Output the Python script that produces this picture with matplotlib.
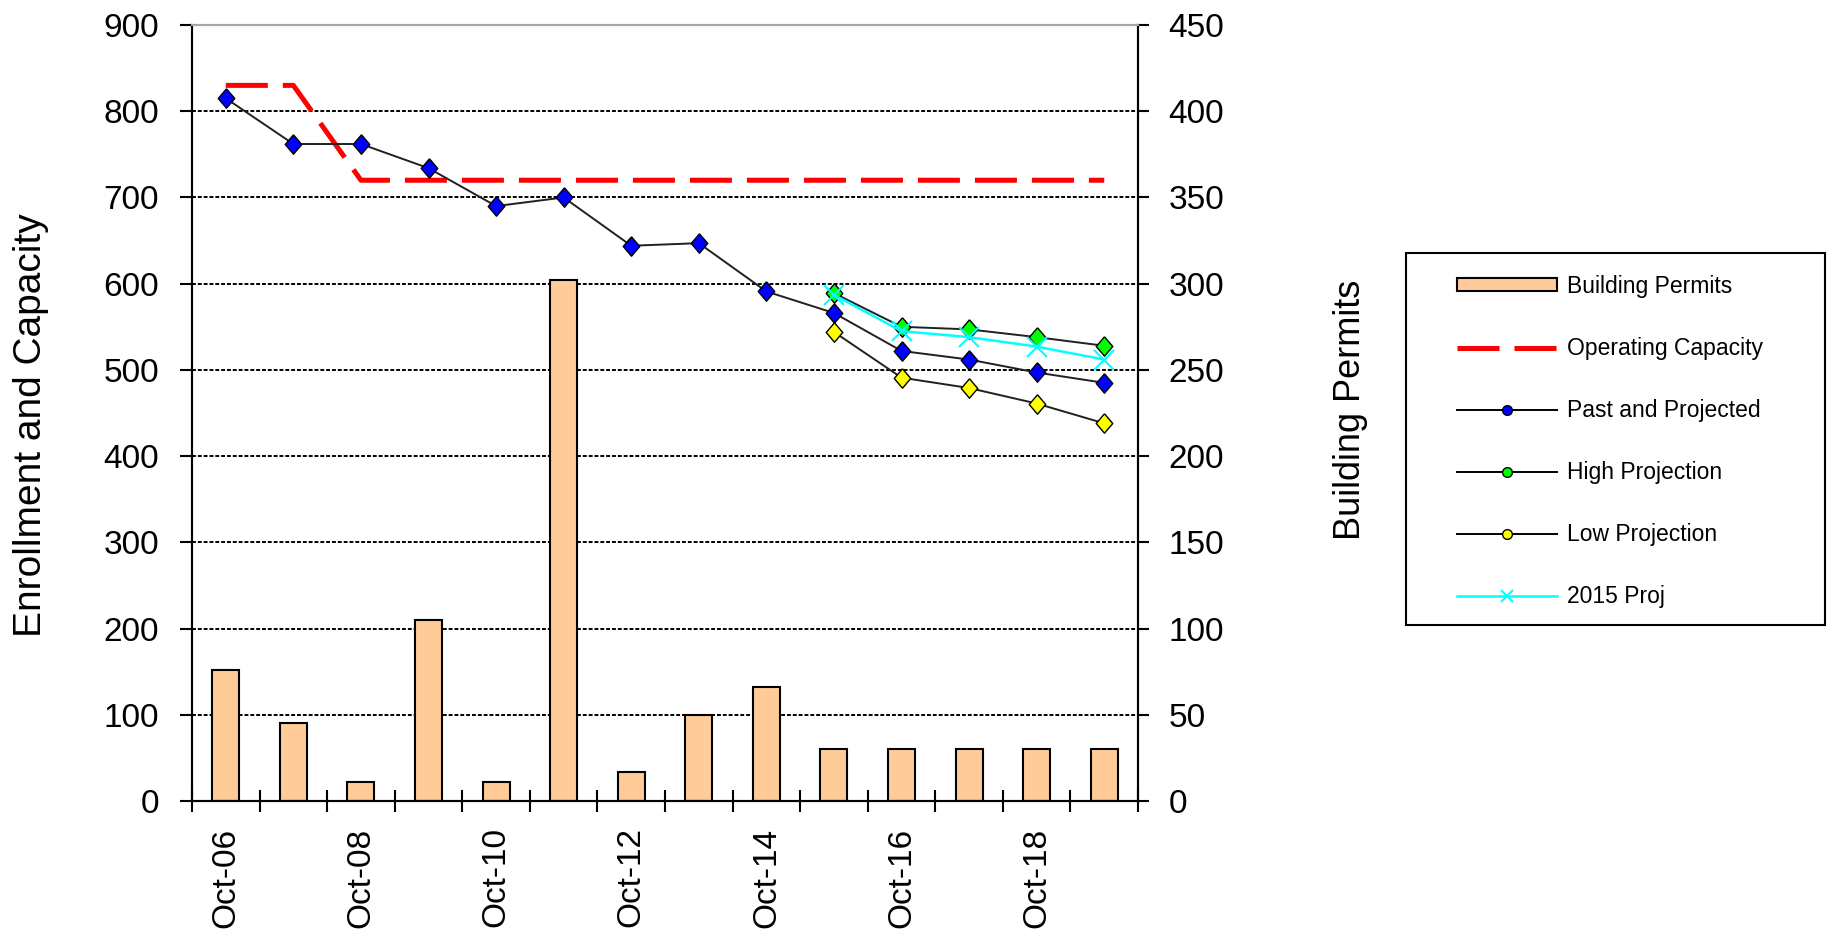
#Enrollment, Capacity and Building Permits

import numpy as np
import matplotlib
matplotlib.use("Agg")
import matplotlib.pyplot as plt
from matplotlib.lines import Line2D
from matplotlib.patches import Patch, Rectangle

plt.rcParams['font.family'] = ['Liberation Sans', 'DejaVu Sans']

#Dados
years = ['Oct-06', 'Oct-07', 'Oct-08', 'Oct-09', 'Oct-10', 'Oct-11', 'Oct-12',
         'Oct-13', 'Oct-14', 'Oct-15', 'Oct-16', 'Oct-17', 'Oct-18', 'Oct-19']
permits = [76, 45, 11, 105, 11, 302, 17, 50, 66, 30, 30, 30, 30, 30]
capacity = [830, 830, 720, 720, 720, 720, 720, 720, 720, 720, 720, 720, 720, 720]
past_proj = [815, 762, 762, 734, 690, 700, 644, 647, 591, 566, 522, 512, 497, 485]
nan = np.nan
high_proj = [nan, nan, nan, nan, nan, nan, nan, nan, nan, 589, 550, 547, 538, 528]
low_proj = [nan, nan, nan, nan, nan, nan, nan, nan, nan, 544, 491, 479, 461, 438]
proj_2015 = [nan, nan, nan, nan, nan, nan, nan, nan, nan, 587, 545, 538, 527, 512]

x = np.arange(len(years))

#Figura
fig = plt.figure(figsize=(18.27, 9.34), dpi=100)
ax1 = fig.add_axes([0.1051, 0.1424, 0.5178, 0.8308])
ax2 = ax1.twinx()
ax1.set_zorder(ax2.get_zorder() + 1)
ax1.patch.set_visible(False)

#Barras (eixo da direita)
ax2.bar(x, permits, width=0.4, color='#FFCC99', edgecolor='black', linewidth=1.5, zorder=2)
ax2.set_ylim(0, 450)
ax2.set_yticks(np.arange(0, 451, 50))
ax2.set_axisbelow(True)
ax2.yaxis.grid(True, color='black', linestyle=(0, (2, 1)), linewidth=1.4)

#Linhas (eixo da esquerda)
diamond = [(0, 1), (0.85, 0), (0, -1), (-0.85, 0), (0, 1)]
ax1.plot(x, capacity, color='red', lw=3.6, dashes=(8.4, 3), zorder=3)
ax1.plot(x, past_proj, color='#202020', lw=1.4, marker=diamond, ms=14,
         mfc='#0000FF', mec='black', mew=1, zorder=5)
ax1.plot(x, high_proj, color='#202020', lw=1.4, marker=diamond, ms=14,
         mfc='#00FF00', mec='black', mew=1, zorder=4)
ax1.plot(x, low_proj, color='#202020', lw=1.4, marker=diamond, ms=14,
         mfc='#FFFF00', mec='black', mew=1, zorder=4)
ax1.plot(x, proj_2015, color='#00FFFF', lw=1.8, marker='x', ms=14, mew=1.5, zorder=4)

ax1.set_xlim(-0.5, len(years) - 0.5)
ax1.set_ylim(0, 900)
ax1.set_yticks(np.arange(0, 901, 100))

#Eixo x: marcas entre categorias, rotulos a cada dois anos
ax1.set_xticks(np.arange(-0.5, len(years)), labels=[''] * (len(years) + 1))
ax1.set_xticks(x[::2], labels=years[::2], minor=True)
ax1.tick_params(axis='x', which='major', direction='inout', length=16.5, width=1.5)
ax1.tick_params(axis='x', which='minor', length=0, pad=19, labelsize=24, labelrotation=90)

ax1.tick_params(axis='y', direction='out', length=8.6, width=1.5, pad=15, labelsize=24)
ax2.tick_params(axis='y', direction='out', length=8, width=1.5, pad=14, labelsize=24)

for ax in (ax1, ax2):
    for s in ('left', 'right', 'bottom'):
        ax.spines[s].set_linewidth(1.5)
    ax.spines['top'].set_color('#a6a6a6')
    ax.spines['top'].set_linewidth(1.5)

#Titulos dos eixos
fig.text(31 / 1827, 1 - 425 / 934, 'Enrollment and Capacity', rotation=90,
         ha='center', va='center', fontsize=28)
fig.text(1350 / 1827, 1 - 410 / 934, 'Building Permits', rotation=90,
         ha='center', va='center', fontsize=26)

#Legenda
handles = [
    Patch(facecolor='#FFCC99', edgecolor='black', lw=1.5, label='Building Permits'),
    Line2D([], [], color='red', lw=3.6, dashes=(8.4, 3), label='Operating Capacity'),
    Line2D([], [], color='black', lw=1.4, marker='o', ms=7, mfc='#0000FF', mec='black',
           label='Past and Projected'),
    Line2D([], [], color='black', lw=1.4, marker='o', ms=7, mfc='#00FF00', mec='black',
           label='High Projection'),
    Line2D([], [], color='black', lw=1.4, marker='o', ms=7, mfc='#FFFF00', mec='black',
           label='Low Projection'),
    Line2D([], [], color='#00FFFF', lw=1.8, marker='x', ms=8, mew=1.5, label='2015 Proj'),
]
fig.legend(handles=handles, loc='upper left', bbox_to_anchor=(1457 / 1827, 1 - 275 / 934),
           bbox_transform=fig.transFigure, frameon=False, borderpad=0, borderaxespad=0,
           handlelength=4.37, handletextpad=0.44, labelspacing=1.7, handleheight=0.48,
           fontsize=16.5)
fig.add_artist(Rectangle((1406 / 1827, 1 - 625 / 934), 419 / 1827, 372 / 934,
                         transform=fig.transFigure, fill=False, edgecolor='black', lw=1.5))

fig.savefig('out.png', dpi=100)
